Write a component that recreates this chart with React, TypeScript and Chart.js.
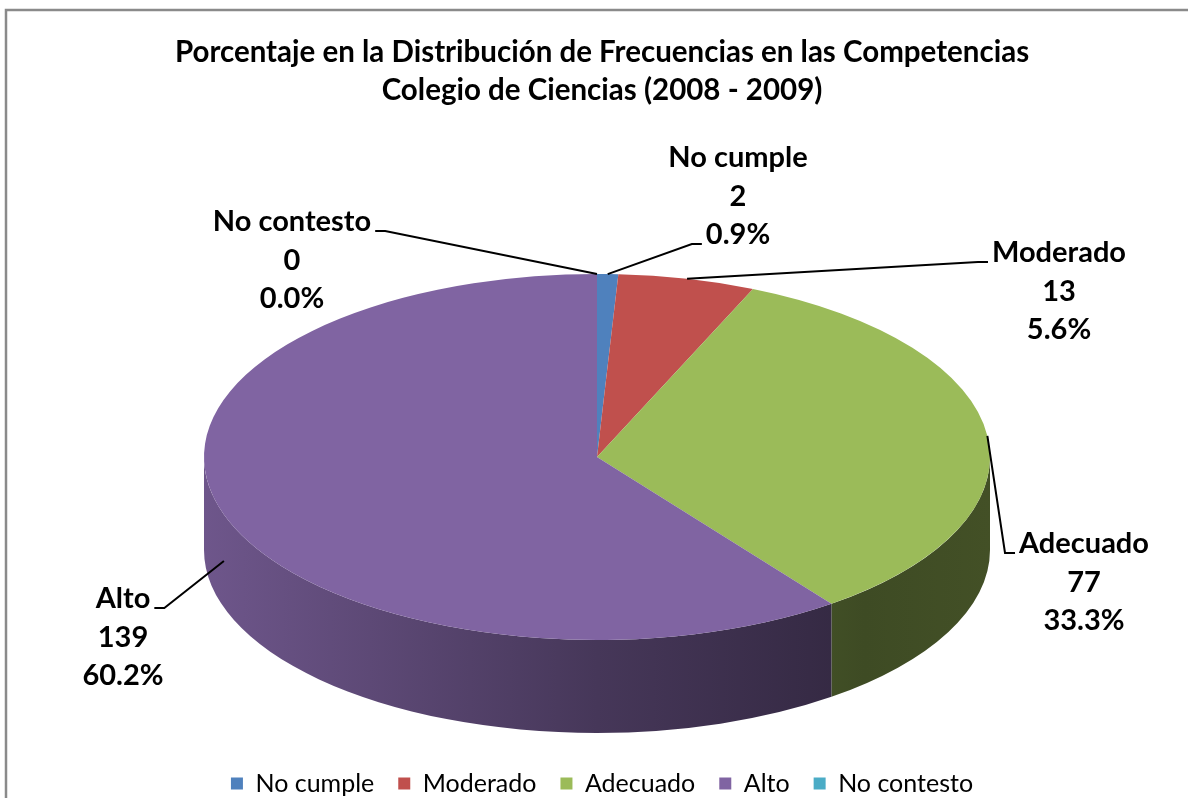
import React, { useEffect, useRef } from "react";
import { Chart, registerables } from "chart.js";

Chart.register(...registerables);

// ---- data ----
const categories = ["No cumple", "Moderado", "Adecuado", "Alto", "No contesto"];
const counts = [2, 13, 77, 139, 0];
const sliceColors = ["#4F81BD", "#C0504D", "#9BBB59", "#8064A2", "#4BACC6"];
const titleLines = [
  "Porcentaje en la Distribución de Frecuencias en las Competencias",
  "Colegio de Ciencias (2008 - 2009)",
];

// ---- layout (positions / sizes, kept apart from data) ----
const pieGeometry = { cx: 597, cy: 457, rx: 393, ry: 183, depth: 93 };
const labelLayout = [
  { x: 738, y: 158, line: 2, side: "left" },
  { x: 1059, y: 253, line: 0, side: "left" },
  { x: 1084, y: 544, line: 0, side: "left" },
  { x: 123, y: 599, line: 0, side: "right" },
  { x: 292, y: 222, line: 0, side: "right" },
];
const FONT = "Lato";
const LABEL_SIZE = 29;
const LABEL_LINE = 38.5;
const TAU = Math.PI * 2;

function shade(hex: string, f: number) {
  const n = parseInt(hex.slice(1), 16);
  const r = Math.round(((n >> 16) & 255) * f);
  const g = Math.round(((n >> 8) & 255) * f);
  const b = Math.round((n & 255) * f);
  return `rgb(${r},${g},${b})`;
}

const pie3d = {
  id: "pie3d",
  beforeDraw(chart: any) {
    const ctx = chart.ctx;
    ctx.save();
    ctx.fillStyle = "#ffffff";
    ctx.fillRect(0, 0, chart.width, chart.height);
    ctx.strokeStyle = "#8a8a8a";
    ctx.lineWidth = 2.5;
    ctx.strokeRect(6, 10, chart.width + 50, chart.height + 50);
    ctx.restore();
  },
  beforeDatasetsDraw(chart: any) {
    const ctx = chart.ctx;
    const meta = chart.getDatasetMeta(0);
    const arcs = meta.data;
    const { cx, cy, rx, ry, depth } = pieGeometry;
    const grad = (base: string) => {
      const g = ctx.createLinearGradient(cx - rx, 0, cx + rx, 0);
      g.addColorStop(0, shade(base, 0.86));
      g.addColorStop(0.5, shade(base, 0.55));
      g.addColorStop(0.84, shade(base, 0.4));
      g.addColorStop(1, shade(base, 0.43));
      return g;
    };
    ctx.save();
    arcs.forEach((arc: any, i: number) => {
      const { startAngle, endAngle } = arc.getProps(["startAngle", "endAngle"], true);
      const span = endAngle - startAngle;
      if (span <= 0) return;
      const s = ((startAngle % TAU) + TAU) % TAU;
      const e = s + span;
      const ranges = [
        [0, Math.PI],
        [TAU, TAU + Math.PI],
      ];
      for (const [lo, hi] of ranges) {
        const a1 = Math.max(s, lo);
        const a2 = Math.min(e, hi);
        if (a2 <= a1) continue;
        ctx.beginPath();
        ctx.ellipse(cx, cy, rx, ry, 0, a1, a2, false);
        ctx.lineTo(cx + rx * Math.cos(a2), cy + depth + ry * Math.sin(a2));
        ctx.ellipse(cx, cy + depth, rx, ry, 0, a2, a1, true);
        ctx.closePath();
        ctx.fillStyle = grad(sliceColors[i]);
        ctx.fill();
      }
    });
    ctx.restore();
    const ref = arcs[0];
    ctx.save();
    ctx.translate(cx, cy);
    ctx.scale(rx / ref.outerRadius, ry / ref.outerRadius);
    ctx.translate(-ref.x, -ref.y);
  },
  afterDatasetsDraw(chart: any) {
    const ctx = chart.ctx;
    ctx.restore();
    const meta = chart.getDatasetMeta(0);
    const arcs = meta.data;
    const values: number[] = chart.data.datasets[0].data;
    const total = values.reduce((a, b) => a + b, 0);
    const { cx, cy, rx, ry, depth } = pieGeometry;
    ctx.save();
    ctx.font = `bold ${LABEL_SIZE}px ${FONT}`;
    ctx.textAlign = "center";
    ctx.textBaseline = "middle";
    ctx.fillStyle = "#000";
    ctx.strokeStyle = "#000";
    ctx.lineWidth = 2;
    arcs.forEach((arc: any, i: number) => {
      const lay = labelLayout[i];
      const lines = [
        chart.data.labels[i],
        String(values[i]),
        ((values[i] / total) * 100).toFixed(1) + "%",
      ];
      const { startAngle, endAngle } = arc.getProps(["startAngle", "endAngle"], true);
      const m = (startAngle + endAngle) / 2;
      let ax = cx + rx * Math.cos(m);
      let ay = cy + ry * Math.sin(m);
      if (Math.sin(m) > 0.05) ay += depth / 2;
      const ly = lay.y + lay.line * LABEL_LINE;
      const w = ctx.measureText(lines[lay.line]).width;
      let hx: number, ex: number;
      if (lay.side === "left") {
        hx = lay.x - w / 2 - 4;
        ex = hx - 10;
      } else {
        hx = lay.x + w / 2 + 4;
        ex = hx + 10;
      }
      const ey = ly + 9;
      ctx.beginPath();
      ctx.moveTo(ax, ay);
      ctx.lineTo(ex, ey);
      ctx.lineTo(hx, ey);
      ctx.stroke();
      lines.forEach((t, k) => {
        ctx.fillText(t, lay.x, lay.y + k * LABEL_LINE);
      });
    });
    ctx.restore();
  },
};

export default function App() {
  const ref = useRef<HTMLCanvasElement | null>(null);
  useEffect(() => {
    if (!ref.current) return;
    Chart.defaults.font.family = FONT;
    const chart = new Chart(ref.current, {
      type: "pie",
      data: {
        labels: categories,
        datasets: [
          {
            data: counts,
            backgroundColor: sliceColors,
            borderWidth: 0,
            clip: false as any,
          },
        ],
      },
      options: {
        responsive: false,
        animation: false,
        events: [],
        layout: { padding: { left: 16, right: 0, top: 0, bottom: 0 } },
        plugins: {
          title: {
            display: true,
            text: titleLines,
            color: "#000",
            font: { family: FONT, weight: "bold", size: 29.5, lineHeight: 1.29 },
            padding: { top: 33, bottom: 10 },
          },
          legend: {
            display: true,
            position: "bottom",
            labels: {
              boxWidth: 12,
              boxHeight: 12,
              padding: 24,
              color: "#000",
              font: { family: FONT, size: 25 },
            },
          },
          tooltip: { enabled: false },
        },
      },
      plugins: [pie3d],
    });
    return () => chart.destroy();
  }, []);
  return (
    <div style={{ position: "fixed", left: 0, top: 0, width: 1188, height: 806 }}>
      <canvas ref={ref} width={1188} height={806} style={{ display: "block" }} />
    </div>
  );
}
